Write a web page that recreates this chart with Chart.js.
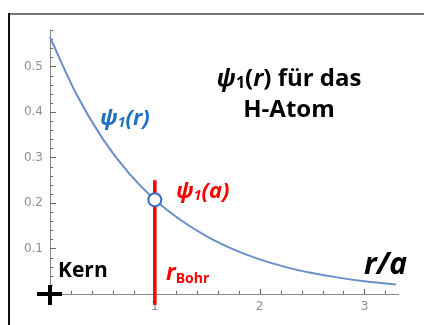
<!DOCTYPE html>
<html>
<head>
<meta charset="utf-8">
<script src="https://cdn.jsdelivr.net/npm/chart.js@4.4.1/dist/chart.umd.min.js"></script>
<style>
  body { margin: 0; background: #fff; }
  canvas { display: block; }
</style>
</head>
<body>
<canvas id="chart" width="424" height="325"></canvas>
<script>
// r/a und psi_1(r)
const rValues = [0, 0.25, 0.5, 0.75, 1, 1.25, 1.5, 1.75, 2, 2.25, 2.5, 2.75, 3, 3.3];
const psiValues = [0.564, 0.44, 0.342, 0.266, 0.207, 0.162, 0.126, 0.098, 0.076, 0.059, 0.046, 0.036, 0.028, 0.021];

// Bohr-Radius und psi_1(a)
const bohrR = [1];
const psiAtBohr = [0.207];
const bohrLineY = [-0.024, 0.25];

// Achsenbeschriftung
const xTickLabels = [1, 2, 3];
const yTickLabels = [0.1, 0.2, 0.3, 0.4, 0.5];

const tickFont = { family: 'DejaVu Sans', size: 12 };
const tickColor = '#8f8f8f';
const textFont = '"Open Sans", "DejaVu Sans", sans-serif';

// Text mit Index zeichnen (z.B. psi_1)
function drawRuns(ctx, runs, x, y, align) {
  let total = 0;
  const parts = runs.map(r => {
    ctx.font = r.font;
    const w = ctx.measureText(r.t).width;
    total += w;
    return { ...r, w };
  });
  let cx = align === 'center' ? x - total / 2 : x;
  parts.forEach(p => {
    ctx.font = p.font;
    ctx.fillText(p.t, cx, y + (p.dy || 0));
    cx += p.w;
  });
}

const extras = {
  id: 'extras',
  beforeDraw(chart) {
    const ctx = chart.ctx;
    ctx.save();
    ctx.fillStyle = '#fff';
    ctx.fillRect(0, 0, chart.width, chart.height);
    // Rahmen
    ctx.fillStyle = '#777';
    ctx.fillRect(9, 13, chart.width - 9, 2);
    ctx.fillStyle = '#111';
    ctx.fillRect(8, 13, 2, chart.height - 13);
    ctx.restore();
  },
  beforeDatasetsDraw(chart) {
    const ctx = chart.ctx;
    const x = chart.scales.x, y = chart.scales.y;
    const x0 = x.getPixelForValue(0), y0 = y.getPixelForValue(0);
    ctx.save();
    ctx.strokeStyle = '#666';
    ctx.lineWidth = 1;
    ctx.beginPath();
    for (let i = 1; i * 0.2 <= x.max + 1e-9; i++) {
      const px = Math.round(x.getPixelForValue(i * 0.2)) + 0.5;
      const len = i % 5 === 0 ? 5 : 3;
      ctx.moveTo(px, y0);
      ctx.lineTo(px, y0 - len);
    }
    for (let i = 1; i * 0.02 <= y.max + 1e-9; i++) {
      const py = Math.round(y.getPixelForValue(i * 0.02)) + 0.5;
      const len = i % 5 === 0 ? 6 : 3;
      ctx.moveTo(x0, py);
      ctx.lineTo(x0 + len, py);
    }
    ctx.stroke();
    ctx.restore();
  },
  afterDraw(chart) {
    const ctx = chart.ctx;
    const x = chart.scales.x, y = chart.scales.y;
    const x0 = x.getPixelForValue(0), y0 = y.getPixelForValue(0);
    ctx.save();
    // Kern (+)
    ctx.fillStyle = '#000';
    ctx.fillRect(x0 - 13, y0 - 2, 25, 4);
    ctx.fillRect(x0 - 2, y0 - 9, 4, 20);

    ctx.textBaseline = 'alphabetic';
    const b = size => 'bold ' + size + 'px ' + textFont;
    const bi = size => 'italic bold ' + size + 'px ' + textFont;

    // Titel
    ctx.fillStyle = '#000';
    drawRuns(ctx, [
      { t: 'ψ', font: bi(24) },
      { t: '1', font: b(16), dy: 2 },
      { t: '(', font: b(24) },
      { t: 'r', font: bi(24) },
      { t: ') für das', font: b(24) }
    ], 289, 86, 'center');
    drawRuns(ctx, [{ t: 'H-Atom', font: b(24) }], 289, 117, 'center');

    // psi_1(r) an der Kurve
    ctx.fillStyle = '#1f6fc4';
    drawRuns(ctx, [
      { t: 'ψ', font: bi(22) },
      { t: '1', font: bi(14), dy: 2 },
      { t: '(r)', font: bi(22) }
    ], 100, 125, 'left');

    // psi_1(a)
    ctx.fillStyle = '#ff0000';
    drawRuns(ctx, [
      { t: 'ψ', font: bi(22) },
      { t: '1', font: bi(14), dy: 2 },
      { t: '(a)', font: bi(22) }
    ], 176, 198, 'left');

    // r_Bohr
    drawRuns(ctx, [
      { t: 'r', font: bi(23) },
      { t: 'Bohr', font: b(14), dy: 3 }
    ], 166, 280, 'left');

    // Kern
    ctx.fillStyle = '#000';
    drawRuns(ctx, [{ t: 'Kern', font: b(21) }], 58, 277, 'left');

    // r/a
    drawRuns(ctx, [{ t: 'r/a', font: bi(30) }], 364, 274, 'left');
    ctx.restore();
  }
};

new Chart(document.getElementById('chart'), {
  type: 'scatter',
  data: {
    datasets: [
      {
        data: bohrR.map((r, i) => ({ x: r, y: psiAtBohr[i] })),
        pointRadius: 6.5,
        pointBorderWidth: 2,
        pointBackgroundColor: '#fff',
        pointBorderColor: '#3a6cc8',
        showLine: false
      },
      {
        data: bohrLineY.map(v => ({ x: bohrR[0], y: v })),
        showLine: true,
        borderColor: '#ff0000',
        borderWidth: 3.5,
        pointRadius: 0,
        clip: false
      },
      {
        data: rValues.map((r, i) => ({ x: r, y: psiValues[i] })),
        showLine: true,
        borderColor: '#6a8fc8',
        borderWidth: 2,
        pointRadius: 0,
        cubicInterpolationMode: 'monotone',
        clip: false
      }
    ]
  },
  options: {
    responsive: false,
    animation: false,
    layout: { padding: { left: 0, top: 30, right: 26, bottom: 0 } },
    plugins: { legend: { display: false }, tooltip: { enabled: false } },
    scales: {
      x: {
        type: 'linear',
        min: 0,
        max: 3.32,
        grid: { display: false, drawTicks: false },
        border: { color: '#888', width: 1 },
        ticks: { padding: 6, color: tickColor, font: tickFont, callback: v => String(v) },
        afterBuildTicks: s => { s.ticks = xTickLabels.map(v => ({ value: v })); },
        afterFit: s => { s.height = 31; }
      },
      y: {
        type: 'linear',
        min: 0,
        max: 0.58,
        grid: { display: false, drawTicks: false },
        border: { color: '#888', width: 1 },
        ticks: { padding: 7, color: tickColor, font: tickFont, callback: v => String(v) },
        afterBuildTicks: s => { s.ticks = yTickLabels.map(v => ({ value: v })); },
        afterFit: s => { s.width = 50; }
      }
    }
  },
  plugins: [extras]
});
</script>
</body>
</html>
